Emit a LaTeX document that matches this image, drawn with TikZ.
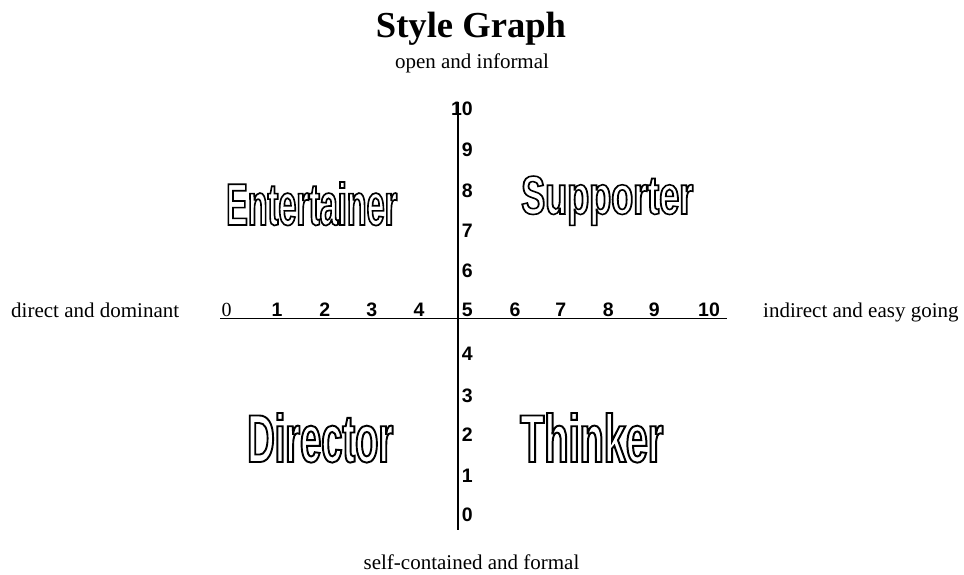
\documentclass[tikz,border=0pt]{standalone}
\usepackage{fontspec}
\setmainfont{Liberation Serif}
\newfontfamily\numfont{Liberation Sans}
\newfontfamily\condfont{Liberation Sans}[FakeStretch=0.56]
\usepackage{graphicx}
\newcommand{\outlineword}[3]{\resizebox{#1}{#2}{\condfont\bfseries\special{pdf:literal direct 1 Tr 0.28 w}#3\special{pdf:literal direct 0 Tr}}}
\tikzset{
  axisline/.style={line width=1.6pt},
  lbl/.style={font=\fontsize{21}{25}\selectfont, inner sep=0pt, anchor=base},
  ttl/.style={font=\fontsize{36.6}{40}\selectfont\bfseries, inner sep=0pt, anchor=base},
  num/.style={font=\fontsize{19.5}{22}\selectfont\numfont\bfseries, inner sep=0pt, anchor=base},
  vnum/.style={num, anchor=base east},
  word/.style={inner sep=0pt, anchor=base west},
}
\begin{document}
\begin{tikzpicture}[x=1pt,y=-1pt]
\useasboundingbox (0,0) rectangle (964,574);
% title and pole labels
\node[ttl] (title) at (471,37) {Style Graph};
\node[lbl] (top) at (472,68) {open and informal};
\node[lbl] (bottom) at (471.5,569) {self-contained and formal};
\node[lbl, anchor=base west] (left) at (11,317) {direct and dominant};
\node[lbl, anchor=base west] (right) at (763,317) {indirect and easy going};
% axes
\coordinate (vtop) at (458,102);
\coordinate (vbot) at (458,530);
\coordinate (hl) at (220,318.5);
\coordinate (hr) at (727,318.5);
\draw[axisline] (vtop) -- (vbot);
\draw[axisline] (hl) -- (hr);
% horizontal numbers
\node[lbl, font=\fontsize{20}{24}\selectfont] (h0) at (226.7,316) {0};
\node[num] (h1) at (277,316) {1};
\node[num] (h2) at (324.7,316) {2};
\node[num] (h3) at (371.7,316) {3};
\node[num] (h4) at (419,316) {4};
\node[vnum] (h5) at (473,316) {5};
\node[num] (h6) at (515,316) {6};
\node[num] (h7) at (560.7,316) {7};
\node[num] (h8) at (608.3,316) {8};
\node[num] (h9) at (654.3,316) {9};
\node[num] (h10) at (709,316) {10};
% vertical numbers
\node[vnum] (v10) at (473,115) {10};
\node[vnum] (v9) at (473,156) {9};
\node[vnum] (v8) at (473,197) {8};
\node[vnum] (v7) at (473,237) {7};
\node[vnum] (v6) at (473,277) {6};
\node[vnum] (v4) at (473,360) {4};
\node[vnum] (v3) at (473,402) {3};
\node[vnum] (v2) at (473,441) {2};
\node[vnum] (v1) at (473,482) {1};
\node[vnum] (v0) at (473,521) {0};
% quadrant words
\node[word] (ent) at (226,225) {\outlineword{171pt}{43pt}{Entertainer}};
\node[word] (sup) at (521,214) {\outlineword{172pt}{38pt}{Supporter}};
\node[word] (dir) at (247,462) {\outlineword{146pt}{49pt}{Director}};
\node[word] (thi) at (520,462) {\outlineword{143pt}{49pt}{Thinker}};
\end{tikzpicture}
\end{document}
